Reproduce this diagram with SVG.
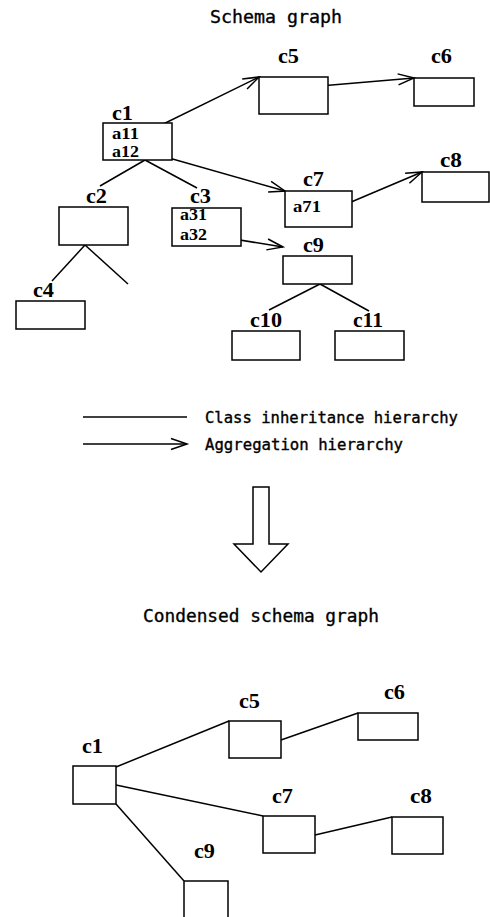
<svg xmlns="http://www.w3.org/2000/svg" width="490" height="917" viewBox="0 0 490 917">
  <style>
    .box { fill: #fff; stroke: #000; stroke-width: 1.5; }
    .edge { fill: none; stroke: #000; stroke-width: 1.5; }
    .agg { fill: none; stroke: #000; stroke-width: 1.5; marker-end: url(#open); }
    .lbl { font-family: "Liberation Serif", "Times New Roman", serif; font-weight: bold; font-size: 21px; fill: #000; }
    .attr { font-family: "Liberation Serif", "Times New Roman", serif; font-weight: bold; font-size: 17px; fill: #000; }
    .mono { font-family: "DejaVu Sans Mono", "Liberation Mono", monospace; fill: #000; stroke: #000; stroke-width: 0.35; }
  </style>
  <defs>
    <marker id="open" markerUnits="userSpaceOnUse" markerWidth="20" markerHeight="14" viewBox="-17 -7 19 14" refX="0" refY="0" orient="auto">
      <path d="M-16,-5.5 L0,0 L-16,5.5" fill="none" stroke="#000" stroke-width="1.5"/>
    </marker>
  </defs>

  <!-- Titles -->
  <text class="mono" x="210" y="23" font-size="18" textLength="132" lengthAdjust="spacingAndGlyphs">Schema graph</text>
  <text class="mono" x="143" y="622" font-size="18" textLength="236" lengthAdjust="spacingAndGlyphs">Condensed schema graph</text>

  <!-- Connectors of the schema graph -->
  <g id="schema-edges">
    <!-- class inheritance -->
    <line class="edge" x1="145" y1="160" x2="100" y2="186"/>
    <line class="edge" x1="145" y1="160" x2="197" y2="188"/>
    <line class="edge" x1="85" y1="245" x2="52" y2="281"/>
    <line class="edge" x1="85" y1="245" x2="128" y2="284"/>
    <line class="edge" x1="320" y1="284" x2="269" y2="310"/>
    <line class="edge" x1="320" y1="284" x2="369" y2="311"/>
    <!-- aggregation -->
    <line class="agg" x1="147" y1="132" x2="259" y2="77"/>
    <line class="agg" x1="148" y1="152" x2="285" y2="191"/>
    <line class="agg" x1="320" y1="86" x2="414" y2="78"/>
    <line class="agg" x1="337" y1="208" x2="422" y2="172"/>
    <line class="agg" x1="215" y1="236" x2="283" y2="247"/>
  </g>

  <!-- Schema graph nodes -->
  <g id="s-c1">
    <rect class="box" x="103" y="123" width="69" height="37"/>
    <text class="lbl" x="112" y="120" textLength="21" lengthAdjust="spacingAndGlyphs">c1</text>
    <text class="attr" x="112" y="139" textLength="27" lengthAdjust="spacingAndGlyphs">a11</text>
    <text class="attr" x="112" y="157" textLength="27" lengthAdjust="spacingAndGlyphs">a12</text>
  </g>
  <g id="s-c2">
    <rect class="box" x="59" y="207" width="69" height="38"/>
    <text class="lbl" x="86" y="203" textLength="21" lengthAdjust="spacingAndGlyphs">c2</text>
  </g>
  <g id="s-c3">
    <rect class="box" x="172" y="208" width="69" height="38"/>
    <text class="lbl" x="190" y="203" textLength="21" lengthAdjust="spacingAndGlyphs">c3</text>
    <text class="attr" x="180" y="220" textLength="27" lengthAdjust="spacingAndGlyphs">a31</text>
    <text class="attr" x="180" y="240" textLength="27" lengthAdjust="spacingAndGlyphs">a32</text>
  </g>
  <g id="s-c4">
    <rect class="box" x="16" y="301" width="69" height="28"/>
    <text class="lbl" x="33" y="297" textLength="21" lengthAdjust="spacingAndGlyphs">c4</text>
  </g>
  <g id="s-c5">
    <rect class="box" x="259" y="77" width="69" height="37"/>
    <text class="lbl" x="278" y="63" textLength="21" lengthAdjust="spacingAndGlyphs">c5</text>
  </g>
  <g id="s-c6">
    <rect class="box" x="414" y="78" width="60" height="28"/>
    <text class="lbl" x="431" y="63" textLength="21" lengthAdjust="spacingAndGlyphs">c6</text>
  </g>
  <g id="s-c7">
    <rect class="box" x="285" y="191" width="67" height="36"/>
    <text class="lbl" x="303" y="186" textLength="21" lengthAdjust="spacingAndGlyphs">c7</text>
    <text class="attr" x="293" y="212" textLength="28" lengthAdjust="spacingAndGlyphs">a71</text>
  </g>
  <g id="s-c8">
    <rect class="box" x="422" y="172" width="67" height="30"/>
    <text class="lbl" x="440" y="167" textLength="22" lengthAdjust="spacingAndGlyphs">c8</text>
  </g>
  <g id="s-c9">
    <rect class="box" x="283" y="256" width="69" height="28"/>
    <text class="lbl" x="303" y="252" textLength="21" lengthAdjust="spacingAndGlyphs">c9</text>
  </g>
  <g id="s-c10">
    <rect class="box" x="232" y="331" width="68" height="29"/>
    <text class="lbl" x="250" y="327" textLength="32" lengthAdjust="spacingAndGlyphs">c10</text>
  </g>
  <g id="s-c11">
    <rect class="box" x="335" y="331" width="69" height="29"/>
    <text class="lbl" x="353" y="327" textLength="30" lengthAdjust="spacingAndGlyphs">c11</text>
  </g>

  <!-- Legend -->
  <g id="legend">
    <line class="edge" x1="83" y1="417" x2="187" y2="417"/>
    <line class="agg" x1="83" y1="444" x2="187" y2="444"/>
    <text class="mono" x="205" y="423" font-size="15" textLength="253" lengthAdjust="spacingAndGlyphs">Class inheritance hierarchy</text>
    <text class="mono" x="205" y="450" font-size="15" textLength="198" lengthAdjust="spacingAndGlyphs">Aggregation hierarchy</text>
  </g>

  <!-- Transformation arrow -->
  <g id="transform-arrow">
    <path d="M253,487 H269 V544 H288 L261,572 L234,544 H253 Z" fill="#fff" stroke="#000" stroke-width="1.5" stroke-linejoin="miter"/>
  </g>

  <!-- Connectors of the condensed graph -->
  <g id="condensed-edges">
    <line class="edge" x1="116" y1="767" x2="229" y2="721"/>
    <line class="edge" x1="116" y1="785" x2="263" y2="816"/>
    <line class="edge" x1="116" y1="804" x2="184" y2="881"/>
    <line class="edge" x1="281" y1="740" x2="358" y2="713"/>
    <line class="edge" x1="315" y1="835" x2="392" y2="817"/>
  </g>

  <!-- Condensed graph nodes -->
  <g id="k-c1">
    <rect class="box" x="73" y="766" width="43" height="38"/>
    <text class="lbl" x="82" y="753" textLength="21" lengthAdjust="spacingAndGlyphs">c1</text>
  </g>
  <g id="k-c5">
    <rect class="box" x="229" y="721" width="52" height="37"/>
    <text class="lbl" x="239" y="708" textLength="21" lengthAdjust="spacingAndGlyphs">c5</text>
  </g>
  <g id="k-c6">
    <rect class="box" x="358" y="713" width="60" height="27"/>
    <text class="lbl" x="384" y="699" textLength="21" lengthAdjust="spacingAndGlyphs">c6</text>
  </g>
  <g id="k-c7">
    <rect class="box" x="263" y="816" width="52" height="37"/>
    <text class="lbl" x="272" y="803" textLength="21" lengthAdjust="spacingAndGlyphs">c7</text>
  </g>
  <g id="k-c8">
    <rect class="box" x="392" y="817" width="51" height="37"/>
    <text class="lbl" x="410" y="803" textLength="22" lengthAdjust="spacingAndGlyphs">c8</text>
  </g>
  <g id="k-c9">
    <rect class="box" x="184" y="881" width="44" height="50"/>
    <text class="lbl" x="194" y="858" textLength="21" lengthAdjust="spacingAndGlyphs">c9</text>
  </g>
</svg>
